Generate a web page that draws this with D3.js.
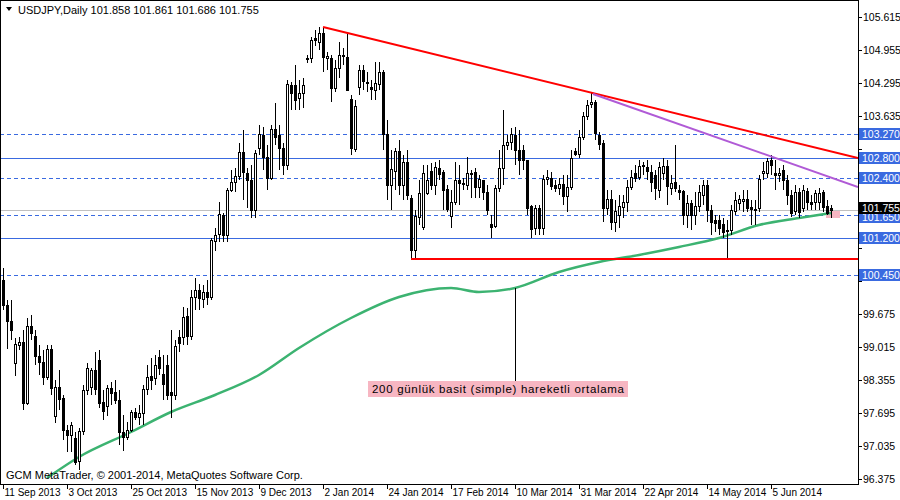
<!DOCTYPE html>
<html><head><meta charset="utf-8">
<script src="https://cdn.jsdelivr.net/npm/d3@7"></script>
<style>body{margin:0;background:#fff}svg{display:block;font-family:"Liberation Sans",Arial,sans-serif}</style>
</head><body><svg id="c" width="900" height="500"></svg>
<script>
const opens=[100.355,99.855,99.535,98.695,99.055,99.115,97.895,99.435,99.235,98.835,98.715,98.415,98.975,97.635,98.215,97.995,97.355,97.255,97.195,96.735,97.335,98.155,98.215,98.555,98.755,97.915,97.835,98.195,98.115,97.955,97.315,97.215,97.355,97.715,97.615,97.695,98.175,98.435,98.395,98.815,98.475,98.655,98.115,98.055,99.215,99.215,99.635,99.235,100.015,100.155,99.975,100.115,100.015,101.135,101.275,101.655,101.255,102.155,102.315,102.435,102.915,102.495,102.355,101.755,102.995,103.255,102.815,102.395,103.375,103.255,102.995,102.655,104.255,104.255,103.995,104.095,104.795,104.795,105.195,105.115,105.295,104.795,104.795,104.195,104.595,104.855,104.815,103.975,102.975,104.215,104.555,104.315,104.215,104.155,104.275,104.515,103.275,102.255,102.535,102.935,102.255,102.715,101.995,100.955,101.615,101.415,102.095,102.535,102.255,102.595,102.515,102.175,101.635,101.915,102.355,102.295,102.255,102.495,102.515,102.215,102.355,102.115,101.475,101.435,102.195,102.595,103.055,103.115,103.255,102.955,102.955,102.755,101.835,101.395,101.795,101.395,102.375,102.395,102.255,102.195,102.275,102.035,102.215,102.935,102.875,103.215,103.635,103.875,103.915,103.255,103.095,101.795,101.975,101.515,101.655,101.815,101.915,102.215,102.495,102.415,102.635,102.615,102.515,102.455,102.155,102.495,102.635,102.195,102.315,102.155,102.135,101.655,101.895,101.655,101.835,102.055,102.255,101.755,101.555,101.555,101.475,101.355,101.355,101.735,101.895,101.935,101.975,101.815,101.775,101.795,102.495,102.495,102.755,102.495,102.455,102.555,102.355,102.055,101.735,102.115,101.795,102.135,101.915,101.915,101.915,102.115,101.835,101.795];
const closes=[99.855,99.535,99.355,99.075,99.115,97.895,99.435,99.295,98.835,98.715,98.415,98.975,98.195,98.215,97.975,97.355,97.255,97.455,96.715,97.335,98.155,98.595,98.555,98.175,97.895,97.735,98.195,98.095,97.955,97.315,97.215,97.355,97.715,97.615,97.695,98.175,98.415,98.355,98.655,98.595,98.275,98.055,98.055,99.035,99.095,99.615,99.235,100.015,100.155,99.995,100.115,100.015,101.155,101.255,101.675,101.255,102.155,102.315,102.435,102.915,102.515,102.355,101.755,102.895,103.275,102.815,102.395,103.375,103.215,102.995,102.655,104.275,104.095,103.955,104.095,104.255,104.795,105.155,105.155,105.295,104.815,104.835,104.195,104.595,104.855,104.835,104.155,102.995,103.835,104.555,104.335,104.295,104.175,104.295,104.515,103.275,102.255,102.575,102.935,102.255,102.715,102.055,100.955,101.635,102.095,102.495,102.355,102.255,102.615,102.475,102.155,101.775,101.915,102.355,102.295,102.275,102.495,102.475,102.215,102.375,102.115,101.755,101.415,102.195,102.595,103.055,103.115,103.275,102.955,102.755,102.755,101.795,101.375,101.795,101.395,102.375,102.415,102.235,102.195,102.275,102.035,102.215,102.795,102.875,103.215,103.635,103.855,103.915,103.295,103.075,101.795,101.975,101.515,101.735,101.835,101.915,102.215,102.415,102.395,102.635,102.655,102.535,102.315,102.195,102.615,102.635,102.235,102.295,102.195,102.115,101.655,101.895,101.655,101.835,102.115,102.255,101.755,101.515,101.495,101.395,101.315,101.355,101.755,101.955,101.975,101.975,101.795,101.775,101.755,102.375,102.535,102.735,102.655,102.455,102.495,102.355,102.055,101.695,102.115,101.715,102.155,101.915,101.875,102.095,102.095,101.815,101.695,101.755];
const highs=[100.595,99.955,99.955,99.195,99.215,99.355,99.595,99.655,99.355,99.055,98.955,99.055,99.055,98.355,98.555,98.055,97.455,97.515,97.315,97.395,98.255,98.695,98.595,98.915,98.955,98.155,98.255,98.315,98.355,98.155,97.655,97.515,97.755,97.795,97.855,98.255,98.655,98.795,98.855,98.955,98.855,98.855,99.355,99.155,99.355,99.815,99.795,100.155,100.395,100.275,100.255,100.355,101.195,101.395,101.915,101.695,102.195,102.555,102.595,103.095,103.355,102.595,102.655,102.955,103.455,103.415,103.055,103.455,103.895,103.455,103.095,104.355,104.315,104.655,104.355,104.395,104.855,105.215,105.355,105.415,105.395,104.915,104.855,104.755,105.115,104.995,105.295,104.055,103.955,104.655,104.655,104.515,104.355,104.715,104.715,104.555,103.555,102.955,102.995,103.155,102.855,102.955,102.055,101.755,102.355,102.655,102.655,102.695,102.715,102.755,102.555,102.255,102.155,102.715,102.655,102.395,102.815,102.555,102.595,102.455,102.355,102.255,101.655,102.255,102.955,103.755,103.255,103.395,103.415,103.355,103.055,102.755,101.855,101.855,101.855,102.455,102.555,102.515,102.355,102.395,102.455,102.455,102.955,102.995,103.355,103.715,103.955,104.115,103.955,103.315,103.155,102.155,102.155,101.955,102.055,102.055,102.355,102.555,102.655,102.755,102.715,102.755,102.655,102.555,102.715,102.795,102.755,102.455,103.055,102.255,102.155,102.055,101.955,102.115,102.255,102.355,102.355,101.855,101.655,101.655,101.595,101.555,101.855,102.115,102.055,102.155,102.155,101.955,101.955,102.455,102.715,102.795,102.855,102.755,102.595,102.655,102.455,102.155,102.255,102.195,102.255,102.195,102.055,102.155,102.195,102.155,101.955,101.855];
const lows=[99.755,98.975,99.155,98.435,98.955,97.755,97.855,99.155,98.655,98.455,98.255,98.355,98.055,97.495,97.755,97.155,96.915,96.915,96.655,96.555,97.255,98.055,98.055,98.055,97.795,97.555,97.635,97.855,97.875,97.055,96.935,97.155,97.315,97.555,97.455,97.455,98.055,98.155,98.255,98.455,97.955,97.955,97.595,97.955,98.915,99.055,99.055,99.155,99.755,99.755,99.795,99.855,99.955,100.935,101.115,101.115,101.115,102.115,102.115,102.355,101.955,101.795,101.595,101.595,102.855,102.555,102.155,102.355,103.055,102.555,102.455,102.555,103.755,103.755,103.755,103.795,104.695,104.695,105.035,104.955,104.515,104.555,103.915,104.115,104.395,104.655,104.155,102.855,102.915,104.055,104.155,104.115,103.955,103.955,104.155,102.955,101.955,101.755,102.155,102.055,101.955,101.955,100.755,100.795,101.455,101.355,102.055,102.155,102.055,102.355,101.755,101.715,101.395,101.855,101.855,102.155,102.155,101.995,101.995,101.995,101.955,101.655,101.195,101.395,102.115,102.255,102.955,102.955,102.655,102.455,102.555,101.655,101.195,101.255,101.255,101.255,102.255,102.155,102.115,102.055,101.855,101.715,102.155,102.835,102.795,103.155,103.555,103.795,103.155,102.955,101.515,101.655,101.355,101.315,101.395,101.595,101.715,102.155,102.315,102.355,102.455,102.355,102.115,101.955,101.995,102.355,101.855,102.055,102.115,101.955,101.455,101.395,101.355,101.455,101.715,101.855,101.515,101.255,101.315,101.255,101.195,100.795,101.255,101.655,101.755,101.715,101.715,101.455,101.455,101.715,102.355,102.395,102.455,102.155,102.315,102.155,101.855,101.615,101.655,101.595,101.715,101.755,101.755,101.755,101.755,101.715,101.655,101.595];
const maIndex=[11,19,32,42,53,64,74,87,99,112,119,128,139,149,159,169,179,189,199,207];
const maValue=[96.395,96.815,97.315,97.715,98.055,98.455,98.995,99.595,100.015,100.195,100.115,100.195,100.515,100.715,100.855,101.015,101.195,101.455,101.595,101.695];
const yTicks=[105.615,104.955,104.295,103.635,102.975,102.315,101.655,100.995,100.335,99.675,99.015,98.355,97.695,97.035,96.375];
const dateLabels=["11 Sep 2013","3 Oct 2013","25 Oct 2013","15 Nov 2013","9 Dec 2013","2 Jan 2014","24 Jan 2014","17 Feb 2014","10 Mar 2014","31 Mar 2014","22 Apr 2014","14 May 2014","5 Jun 2014"];
const dashedLevels=[103.270,102.400,101.650,100.450];
const solidLevels=[102.800,101.200];
const lastPrice=101.755;
const supportLevel=100.775;
const redTrend=[[80,105.415],[213.75,102.795]];
const purpleTrend=[[147.5,104.075],[213.75,102.215]];
const title="USDJPY,Daily  101.858 101.861 101.686 101.755";
const note="200 günlük basit (simple) hareketli ortalama";

const svg=d3.select("#c");
const R=858, B=484;
const x=d3.scaleLinear().domain([0,1]).range([3,7]);
const y=d3.scaleLinear().domain([96.375,105.615]).range([479,17]);
const n=Math.min(opens.length,closes.length,highs.length,lows.length);
svg.append("defs").append("clipPath").attr("id","pc").append("rect").attr("x",0).attr("y",0).attr("width",R).attr("height",B);
const g=svg.append("g").attr("clip-path","url(#pc)");
const px=v=>Math.round(v)+0.5;

g.selectAll(".dl").data(dashedLevels).enter().append("line").attr("x1",0).attr("x2",R).attr("y1",d=>px(y(d))).attr("y2",d=>px(y(d))).attr("stroke","#3a6ae0").attr("stroke-dasharray","4,3");
g.selectAll(".sl").data(solidLevels).enter().append("line").attr("x1",0).attr("x2",R).attr("y1",d=>px(y(d))).attr("y2",d=>px(y(d))).attr("stroke","#3a6ae0");
g.append("line").attr("x1",0).attr("x2",R).attr("y1",px(y(lastPrice))).attr("y2",px(y(lastPrice))).attr("stroke","#c0c0c0");

g.append("rect").attr("x",x(n-1)-5).attr("y",y(lastPrice)+1).attr("width",14).attr("height",7).attr("fill","#f7b6c2");

g.append("path").datum(maIndex.map((d,i)=>[d,maValue[i]])).attr("fill","none").attr("stroke","#3cb371").attr("stroke-width",2.5)
 .attr("d",d3.line().x(d=>x(d[0])).y(d=>y(d[1])).curve(d3.curveMonotoneX));

const c=g.selectAll(".c").data(d3.range(n)).enter().append("g").attr("shape-rendering","crispEdges");
c.append("line").attr("x1",i=>Math.round(x(i))+0.5).attr("x2",i=>Math.round(x(i))+0.5).attr("y1",i=>y(highs[i])).attr("y2",i=>y(lows[i])).attr("stroke","#000");
c.append("rect").attr("x",i=>Math.round(x(i))-1+0.5).attr("width",2)
 .attr("y",i=>Math.round(y(Math.max(opens[i],closes[i])))+0.5)
 .attr("height",i=>Math.max(1,Math.round(Math.abs(y(opens[i])-y(closes[i])))))
 .attr("fill",i=>closes[i]<opens[i]?"#000":"#fff").attr("stroke","#000");

g.append("line").attr("x1",x(redTrend[0][0])).attr("y1",y(redTrend[0][1])).attr("x2",x(redTrend[1][0])).attr("y2",y(redTrend[1][1])).attr("stroke","#ff0000").attr("stroke-width",2);
g.append("line").attr("x1",x(purpleTrend[0][0])).attr("y1",y(purpleTrend[0][1])).attr("x2",x(purpleTrend[1][0])).attr("y2",y(purpleTrend[1][1])).attr("stroke","#b05ad6").attr("stroke-width",2);
g.append("line").attr("x1",x(102)).attr("x2",R).attr("y1",y(supportLevel)).attr("y2",y(supportLevel)).attr("stroke","#ff0000").attr("stroke-width",2);

const ai=128;
g.append("line").attr("x1",px(x(ai))).attr("x2",px(x(ai))).attr("y1",y(maValue[11])).attr("y2",381).attr("stroke","#000");
g.append("rect").attr("x",368).attr("y",381).attr("width",260).attr("height",16).attr("fill","#f7b6c2");
g.append("text").attr("x",372).attr("y",393).attr("font-size",11.5).attr("textLength",252).attr("fill","#000").text(note);
g.append("text").attr("x",6).attr("y",479).attr("font-size",11).attr("fill","#000").text("GCM MetaTrader, © 2001-2014, MetaQuotes Software Corp.");

svg.append("path").attr("d","M6,7 L12,7 L9,11 Z").attr("fill","#000");
svg.append("text").attr("x",18).attr("y",14).attr("font-size",11).text(title);

svg.append("rect").attr("x",0.5).attr("y",0.5).attr("width",R).attr("height",B).attr("fill","none").attr("stroke","#000").attr("shape-rendering","crispEdges");

const labels=[...dashedLevels,...solidLevels,lastPrice];
const ya=svg.append("g").attr("font-size",10.5);
yTicks.forEach(t=>{ya.append("line").attr("x1",R).attr("x2",R+4).attr("y1",px(y(t))).attr("y2",px(y(t))).attr("stroke","#000");
 if(labels.every(v=>Math.abs(y(v)-y(t))>12)) ya.append("text").attr("x",R+5).attr("y",y(t)+4).text(t.toFixed(3));});
const lab=(v,bg,dy)=>{ya.append("rect").attr("x",R+1).attr("y",Math.round(y(v))-6+dy).attr("width",41).attr("height",12).attr("fill",bg);
 ya.append("text").attr("x",R+4).attr("y",y(v)+4+dy).attr("fill","#fff").text(v.toFixed(3));};
dashedLevels.forEach(v=>lab(v,"#3a6ae0",v===101.650?2:0));
solidLevels.forEach(v=>lab(v,"#3a6ae0",0));
lab(lastPrice,"#000",-2);

const xa=svg.append("g").attr("font-size",10);
dateLabels.forEach((d,k)=>{const xx=px(x(16*k));
 xa.append("line").attr("x1",xx).attr("x2",xx).attr("y1",B).attr("y2",B+5).attr("stroke","#000");
 xa.append("text").attr("x",xx+1).attr("y",496).text(d);});
</script></body></html>
